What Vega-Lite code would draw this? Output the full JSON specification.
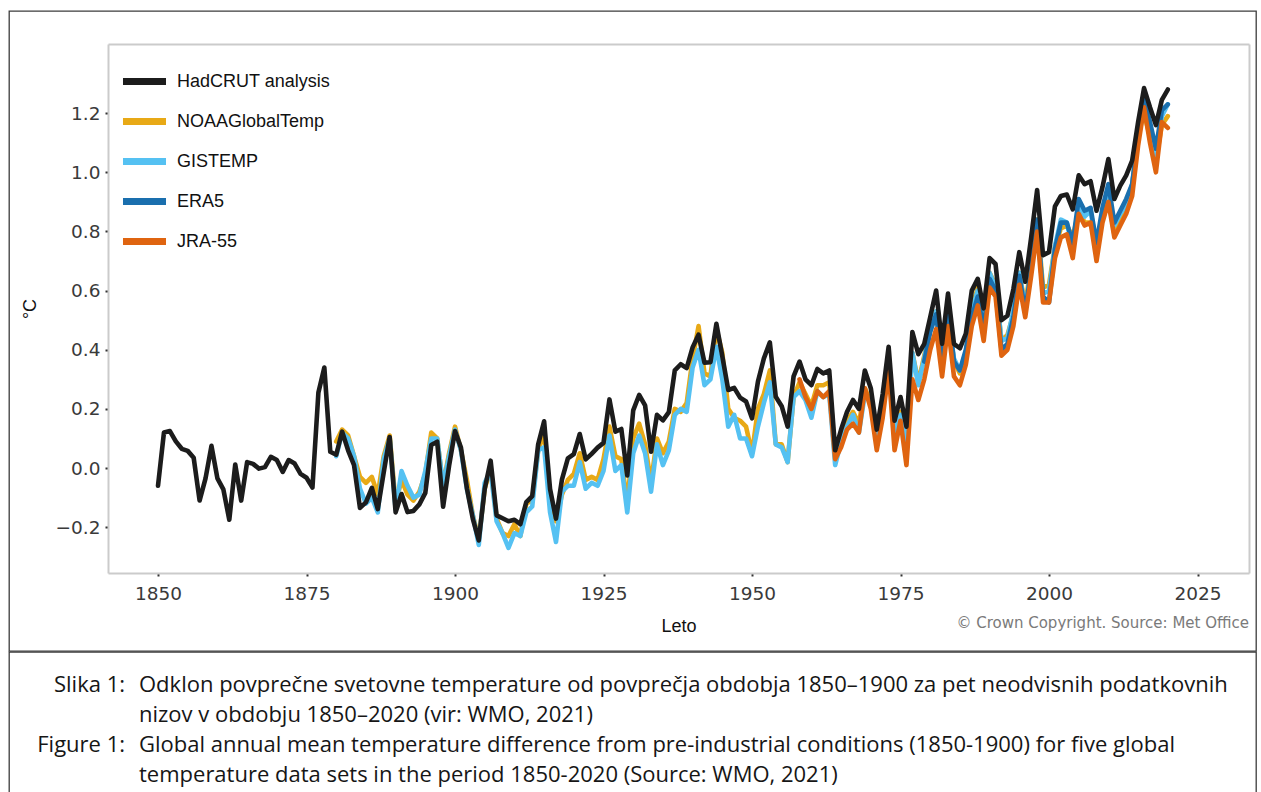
{
  "$schema": "https://vega.github.io/schema/vega-lite/v6.json",
  "padding": {"left": 8, "top": 10, "right": 6, "bottom": 0},
  "background": "#ffffff",
  "spacing": -2,
  "config": {
    "view": {"stroke": "#3c3c3c", "strokeWidth": 1.3},
    "axis": {"grid": false}
  },
  "vconcat": [
    {
      "width": 1247,
      "height": 640,
      "title": {
        "text": "© Crown Copyright. Source: Met Office",
        "orient": "bottom",
        "anchor": "end",
        "offset": -35,
        "dx": -7,
        "font": "DejaVu Sans",
        "fontSize": 15,
        "fontWeight": "normal",
        "color": "#7a7a7a"
      },
      "data": {
        "values": [
          {"year":1880,"dataset":"NOAAGlobalTemp","anomaly":0.09},{"year":1881,"dataset":"NOAAGlobalTemp","anomaly":0.13},{"year":1882,"dataset":"NOAAGlobalTemp","anomaly":0.11},{"year":1883,"dataset":"NOAAGlobalTemp","anomaly":0.04},{"year":1884,"dataset":"NOAAGlobalTemp","anomaly":-0.03},{"year":1885,"dataset":"NOAAGlobalTemp","anomaly":-0.05},{"year":1886,"dataset":"NOAAGlobalTemp","anomaly":-0.03},{"year":1887,"dataset":"NOAAGlobalTemp","anomaly":-0.09},{"year":1888,"dataset":"NOAAGlobalTemp","anomaly":0.04},{"year":1889,"dataset":"NOAAGlobalTemp","anomaly":0.11},
          {"year":1890,"dataset":"NOAAGlobalTemp","anomaly":-0.12},{"year":1891,"dataset":"NOAAGlobalTemp","anomaly":-0.04},{"year":1892,"dataset":"NOAAGlobalTemp","anomaly":-0.09},{"year":1893,"dataset":"NOAAGlobalTemp","anomaly":-0.11},{"year":1894,"dataset":"NOAAGlobalTemp","anomaly":-0.08},{"year":1895,"dataset":"NOAAGlobalTemp","anomaly":-0.02},{"year":1896,"dataset":"NOAAGlobalTemp","anomaly":0.12},{"year":1897,"dataset":"NOAAGlobalTemp","anomaly":0.10},{"year":1898,"dataset":"NOAAGlobalTemp","anomaly":-0.06},{"year":1899,"dataset":"NOAAGlobalTemp","anomaly":0.05},
          {"year":1900,"dataset":"NOAAGlobalTemp","anomaly":0.14},{"year":1901,"dataset":"NOAAGlobalTemp","anomaly":0.06},{"year":1902,"dataset":"NOAAGlobalTemp","anomaly":-0.04},{"year":1903,"dataset":"NOAAGlobalTemp","anomaly":-0.16},{"year":1904,"dataset":"NOAAGlobalTemp","anomaly":-0.24},{"year":1905,"dataset":"NOAAGlobalTemp","anomaly":-0.07},{"year":1906,"dataset":"NOAAGlobalTemp","anomaly":0.0},{"year":1907,"dataset":"NOAAGlobalTemp","anomaly":-0.17},{"year":1908,"dataset":"NOAAGlobalTemp","anomaly":-0.22},{"year":1909,"dataset":"NOAAGlobalTemp","anomaly":-0.23},
          {"year":1910,"dataset":"NOAAGlobalTemp","anomaly":-0.19},{"year":1911,"dataset":"NOAAGlobalTemp","anomaly":-0.23},{"year":1912,"dataset":"NOAAGlobalTemp","anomaly":-0.12},{"year":1913,"dataset":"NOAAGlobalTemp","anomaly":-0.11},{"year":1914,"dataset":"NOAAGlobalTemp","anomaly":0.06},{"year":1915,"dataset":"NOAAGlobalTemp","anomaly":0.12},{"year":1916,"dataset":"NOAAGlobalTemp","anomaly":-0.11},{"year":1917,"dataset":"NOAAGlobalTemp","anomaly":-0.18},{"year":1918,"dataset":"NOAAGlobalTemp","anomaly":-0.09},{"year":1919,"dataset":"NOAAGlobalTemp","anomaly":-0.04},
          {"year":1920,"dataset":"NOAAGlobalTemp","anomaly":-0.02},{"year":1921,"dataset":"NOAAGlobalTemp","anomaly":0.05},{"year":1922,"dataset":"NOAAGlobalTemp","anomaly":-0.04},{"year":1923,"dataset":"NOAAGlobalTemp","anomaly":-0.03},{"year":1924,"dataset":"NOAAGlobalTemp","anomaly":-0.04},{"year":1925,"dataset":"NOAAGlobalTemp","anomaly":0.03},{"year":1926,"dataset":"NOAAGlobalTemp","anomaly":0.14},{"year":1927,"dataset":"NOAAGlobalTemp","anomaly":0.04},{"year":1928,"dataset":"NOAAGlobalTemp","anomaly":0.03},{"year":1929,"dataset":"NOAAGlobalTemp","anomaly":-0.12},
          {"year":1930,"dataset":"NOAAGlobalTemp","anomaly":0.10},{"year":1931,"dataset":"NOAAGlobalTemp","anomaly":0.15},{"year":1932,"dataset":"NOAAGlobalTemp","anomaly":0.08},{"year":1933,"dataset":"NOAAGlobalTemp","anomaly":-0.05},{"year":1934,"dataset":"NOAAGlobalTemp","anomaly":0.10},{"year":1935,"dataset":"NOAAGlobalTemp","anomaly":0.05},{"year":1936,"dataset":"NOAAGlobalTemp","anomaly":0.09},{"year":1937,"dataset":"NOAAGlobalTemp","anomaly":0.20},{"year":1938,"dataset":"NOAAGlobalTemp","anomaly":0.19},{"year":1939,"dataset":"NOAAGlobalTemp","anomaly":0.22},
          {"year":1940,"dataset":"NOAAGlobalTemp","anomaly":0.37},{"year":1941,"dataset":"NOAAGlobalTemp","anomaly":0.48},{"year":1942,"dataset":"NOAAGlobalTemp","anomaly":0.32},{"year":1943,"dataset":"NOAAGlobalTemp","anomaly":0.31},{"year":1944,"dataset":"NOAAGlobalTemp","anomaly":0.47},{"year":1945,"dataset":"NOAAGlobalTemp","anomaly":0.39},{"year":1946,"dataset":"NOAAGlobalTemp","anomaly":0.20},{"year":1947,"dataset":"NOAAGlobalTemp","anomaly":0.17},{"year":1948,"dataset":"NOAAGlobalTemp","anomaly":0.16},{"year":1949,"dataset":"NOAAGlobalTemp","anomaly":0.14},
          {"year":1950,"dataset":"NOAAGlobalTemp","anomaly":0.05},{"year":1951,"dataset":"NOAAGlobalTemp","anomaly":0.20},{"year":1952,"dataset":"NOAAGlobalTemp","anomaly":0.25},{"year":1953,"dataset":"NOAAGlobalTemp","anomaly":0.33},{"year":1954,"dataset":"NOAAGlobalTemp","anomaly":0.08},{"year":1955,"dataset":"NOAAGlobalTemp","anomaly":0.08},{"year":1956,"dataset":"NOAAGlobalTemp","anomaly":0.02},{"year":1957,"dataset":"NOAAGlobalTemp","anomaly":0.24},{"year":1958,"dataset":"NOAAGlobalTemp","anomaly":0.29},{"year":1959,"dataset":"NOAAGlobalTemp","anomaly":0.25},
          {"year":1960,"dataset":"NOAAGlobalTemp","anomaly":0.21},{"year":1961,"dataset":"NOAAGlobalTemp","anomaly":0.28},{"year":1962,"dataset":"NOAAGlobalTemp","anomaly":0.28},{"year":1963,"dataset":"NOAAGlobalTemp","anomaly":0.29},{"year":1964,"dataset":"NOAAGlobalTemp","anomaly":0.04},{"year":1965,"dataset":"NOAAGlobalTemp","anomaly":0.11},{"year":1966,"dataset":"NOAAGlobalTemp","anomaly":0.16},{"year":1967,"dataset":"NOAAGlobalTemp","anomaly":0.19},{"year":1968,"dataset":"NOAAGlobalTemp","anomaly":0.15},{"year":1969,"dataset":"NOAAGlobalTemp","anomaly":0.27},
          {"year":1970,"dataset":"NOAAGlobalTemp","anomaly":0.22},{"year":1971,"dataset":"NOAAGlobalTemp","anomaly":0.10},{"year":1972,"dataset":"NOAAGlobalTemp","anomaly":0.21},{"year":1973,"dataset":"NOAAGlobalTemp","anomaly":0.36},{"year":1974,"dataset":"NOAAGlobalTemp","anomaly":0.12},{"year":1975,"dataset":"NOAAGlobalTemp","anomaly":0.19},{"year":1976,"dataset":"NOAAGlobalTemp","anomaly":0.09},{"year":1977,"dataset":"NOAAGlobalTemp","anomaly":0.39},{"year":1978,"dataset":"NOAAGlobalTemp","anomaly":0.29},{"year":1979,"dataset":"NOAAGlobalTemp","anomaly":0.38},
          {"year":1980,"dataset":"NOAAGlobalTemp","anomaly":0.47},{"year":1981,"dataset":"NOAAGlobalTemp","anomaly":0.53},{"year":1982,"dataset":"NOAAGlobalTemp","anomaly":0.35},{"year":1983,"dataset":"NOAAGlobalTemp","anomaly":0.52},{"year":1984,"dataset":"NOAAGlobalTemp","anomaly":0.36},{"year":1985,"dataset":"NOAAGlobalTemp","anomaly":0.32},{"year":1986,"dataset":"NOAAGlobalTemp","anomaly":0.39},{"year":1987,"dataset":"NOAAGlobalTemp","anomaly":0.54},{"year":1988,"dataset":"NOAAGlobalTemp","anomaly":0.61},{"year":1989,"dataset":"NOAAGlobalTemp","anomaly":0.48},
          {"year":1990,"dataset":"NOAAGlobalTemp","anomaly":0.66},{"year":1991,"dataset":"NOAAGlobalTemp","anomaly":0.62},{"year":1992,"dataset":"NOAAGlobalTemp","anomaly":0.43},{"year":1993,"dataset":"NOAAGlobalTemp","anomaly":0.45},{"year":1994,"dataset":"NOAAGlobalTemp","anomaly":0.52},{"year":1995,"dataset":"NOAAGlobalTemp","anomaly":0.66},{"year":1996,"dataset":"NOAAGlobalTemp","anomaly":0.55},{"year":1997,"dataset":"NOAAGlobalTemp","anomaly":0.69},{"year":1998,"dataset":"NOAAGlobalTemp","anomaly":0.84},{"year":1999,"dataset":"NOAAGlobalTemp","anomaly":0.61},
          {"year":2000,"dataset":"NOAAGlobalTemp","anomaly":0.62},{"year":2001,"dataset":"NOAAGlobalTemp","anomaly":0.75},{"year":2002,"dataset":"NOAAGlobalTemp","anomaly":0.81},{"year":2003,"dataset":"NOAAGlobalTemp","anomaly":0.82},{"year":2004,"dataset":"NOAAGlobalTemp","anomaly":0.78},{"year":2005,"dataset":"NOAAGlobalTemp","anomaly":0.87},{"year":2006,"dataset":"NOAAGlobalTemp","anomaly":0.83},{"year":2007,"dataset":"NOAAGlobalTemp","anomaly":0.83},{"year":2008,"dataset":"NOAAGlobalTemp","anomaly":0.75},{"year":2009,"dataset":"NOAAGlobalTemp","anomaly":0.85},
          {"year":2010,"dataset":"NOAAGlobalTemp","anomaly":0.91},{"year":2011,"dataset":"NOAAGlobalTemp","anomaly":0.79},{"year":2012,"dataset":"NOAAGlobalTemp","anomaly":0.83},{"year":2013,"dataset":"NOAAGlobalTemp","anomaly":0.88},{"year":2014,"dataset":"NOAAGlobalTemp","anomaly":0.95},{"year":2015,"dataset":"NOAAGlobalTemp","anomaly":1.14},{"year":2016,"dataset":"NOAAGlobalTemp","anomaly":1.20},{"year":2017,"dataset":"NOAAGlobalTemp","anomaly":1.12},{"year":2018,"dataset":"NOAAGlobalTemp","anomaly":1.04},{"year":2019,"dataset":"NOAAGlobalTemp","anomaly":1.16},
          {"year":2020,"dataset":"NOAAGlobalTemp","anomaly":1.19},

          {"year":1880,"dataset":"GISTEMP","anomaly":0.04},{"year":1881,"dataset":"GISTEMP","anomaly":0.12},{"year":1882,"dataset":"GISTEMP","anomaly":0.10},{"year":1883,"dataset":"GISTEMP","anomaly":0.04},{"year":1884,"dataset":"GISTEMP","anomaly":-0.07},{"year":1885,"dataset":"GISTEMP","anomaly":-0.12},{"year":1886,"dataset":"GISTEMP","anomaly":-0.10},{"year":1887,"dataset":"GISTEMP","anomaly":-0.15},{"year":1888,"dataset":"GISTEMP","anomaly":0.03},{"year":1889,"dataset":"GISTEMP","anomaly":0.10},
          {"year":1890,"dataset":"GISTEMP","anomaly":-0.14},{"year":1891,"dataset":"GISTEMP","anomaly":-0.01},{"year":1892,"dataset":"GISTEMP","anomaly":-0.06},{"year":1893,"dataset":"GISTEMP","anomaly":-0.10},{"year":1894,"dataset":"GISTEMP","anomaly":-0.09},{"year":1895,"dataset":"GISTEMP","anomaly":-0.01},{"year":1896,"dataset":"GISTEMP","anomaly":0.10},{"year":1897,"dataset":"GISTEMP","anomaly":0.10},{"year":1898,"dataset":"GISTEMP","anomaly":-0.06},{"year":1899,"dataset":"GISTEMP","anomaly":0.04},
          {"year":1900,"dataset":"GISTEMP","anomaly":0.13},{"year":1901,"dataset":"GISTEMP","anomaly":0.06},{"year":1902,"dataset":"GISTEMP","anomaly":-0.07},{"year":1903,"dataset":"GISTEMP","anomaly":-0.16},{"year":1904,"dataset":"GISTEMP","anomaly":-0.26},{"year":1905,"dataset":"GISTEMP","anomaly":-0.05},{"year":1906,"dataset":"GISTEMP","anomaly":-0.01},{"year":1907,"dataset":"GISTEMP","anomaly":-0.18},{"year":1908,"dataset":"GISTEMP","anomaly":-0.22},{"year":1909,"dataset":"GISTEMP","anomaly":-0.27},
          {"year":1910,"dataset":"GISTEMP","anomaly":-0.22},{"year":1911,"dataset":"GISTEMP","anomaly":-0.23},{"year":1912,"dataset":"GISTEMP","anomaly":-0.15},{"year":1913,"dataset":"GISTEMP","anomaly":-0.13},{"year":1914,"dataset":"GISTEMP","anomaly":0.06},{"year":1915,"dataset":"GISTEMP","anomaly":0.07},{"year":1916,"dataset":"GISTEMP","anomaly":-0.15},{"year":1917,"dataset":"GISTEMP","anomaly":-0.25},{"year":1918,"dataset":"GISTEMP","anomaly":-0.08},{"year":1919,"dataset":"GISTEMP","anomaly":-0.06},
          {"year":1920,"dataset":"GISTEMP","anomaly":-0.06},{"year":1921,"dataset":"GISTEMP","anomaly":0.02},{"year":1922,"dataset":"GISTEMP","anomaly":-0.07},{"year":1923,"dataset":"GISTEMP","anomaly":-0.05},{"year":1924,"dataset":"GISTEMP","anomaly":-0.06},{"year":1925,"dataset":"GISTEMP","anomaly":-0.01},{"year":1926,"dataset":"GISTEMP","anomaly":0.11},{"year":1927,"dataset":"GISTEMP","anomaly":-0.01},{"year":1928,"dataset":"GISTEMP","anomaly":0.01},{"year":1929,"dataset":"GISTEMP","anomaly":-0.15},
          {"year":1930,"dataset":"GISTEMP","anomaly":0.05},{"year":1931,"dataset":"GISTEMP","anomaly":0.11},{"year":1932,"dataset":"GISTEMP","anomaly":0.05},{"year":1933,"dataset":"GISTEMP","anomaly":-0.08},{"year":1934,"dataset":"GISTEMP","anomaly":0.08},{"year":1935,"dataset":"GISTEMP","anomaly":0.01},{"year":1936,"dataset":"GISTEMP","anomaly":0.06},{"year":1937,"dataset":"GISTEMP","anomaly":0.18},{"year":1938,"dataset":"GISTEMP","anomaly":0.20},{"year":1939,"dataset":"GISTEMP","anomaly":0.19},
          {"year":1940,"dataset":"GISTEMP","anomaly":0.34},{"year":1941,"dataset":"GISTEMP","anomaly":0.40},{"year":1942,"dataset":"GISTEMP","anomaly":0.28},{"year":1943,"dataset":"GISTEMP","anomaly":0.30},{"year":1944,"dataset":"GISTEMP","anomaly":0.41},{"year":1945,"dataset":"GISTEMP","anomaly":0.30},{"year":1946,"dataset":"GISTEMP","anomaly":0.14},{"year":1947,"dataset":"GISTEMP","anomaly":0.18},{"year":1948,"dataset":"GISTEMP","anomaly":0.10},{"year":1949,"dataset":"GISTEMP","anomaly":0.10},
          {"year":1950,"dataset":"GISTEMP","anomaly":0.04},{"year":1951,"dataset":"GISTEMP","anomaly":0.14},{"year":1952,"dataset":"GISTEMP","anomaly":0.22},{"year":1953,"dataset":"GISTEMP","anomaly":0.29},{"year":1954,"dataset":"GISTEMP","anomaly":0.08},{"year":1955,"dataset":"GISTEMP","anomaly":0.07},{"year":1956,"dataset":"GISTEMP","anomaly":0.02},{"year":1957,"dataset":"GISTEMP","anomaly":0.24},{"year":1958,"dataset":"GISTEMP","anomaly":0.26},{"year":1959,"dataset":"GISTEMP","anomaly":0.23},
          {"year":1960,"dataset":"GISTEMP","anomaly":0.17},{"year":1961,"dataset":"GISTEMP","anomaly":0.26},{"year":1962,"dataset":"GISTEMP","anomaly":0.24},{"year":1963,"dataset":"GISTEMP","anomaly":0.25},{"year":1964,"dataset":"GISTEMP","anomaly":0.01},{"year":1965,"dataset":"GISTEMP","anomaly":0.09},{"year":1966,"dataset":"GISTEMP","anomaly":0.14},{"year":1967,"dataset":"GISTEMP","anomaly":0.18},{"year":1968,"dataset":"GISTEMP","anomaly":0.12},{"year":1969,"dataset":"GISTEMP","anomaly":0.25},
          {"year":1970,"dataset":"GISTEMP","anomaly":0.22},{"year":1971,"dataset":"GISTEMP","anomaly":0.10},{"year":1972,"dataset":"GISTEMP","anomaly":0.20},{"year":1973,"dataset":"GISTEMP","anomaly":0.35},{"year":1974,"dataset":"GISTEMP","anomaly":0.12},{"year":1975,"dataset":"GISTEMP","anomaly":0.18},{"year":1976,"dataset":"GISTEMP","anomaly":0.08},{"year":1977,"dataset":"GISTEMP","anomaly":0.39},{"year":1978,"dataset":"GISTEMP","anomaly":0.28},{"year":1979,"dataset":"GISTEMP","anomaly":0.37},
          {"year":1980,"dataset":"GISTEMP","anomaly":0.47},{"year":1981,"dataset":"GISTEMP","anomaly":0.53},{"year":1982,"dataset":"GISTEMP","anomaly":0.35},{"year":1983,"dataset":"GISTEMP","anomaly":0.52},{"year":1984,"dataset":"GISTEMP","anomaly":0.37},{"year":1985,"dataset":"GISTEMP","anomaly":0.33},{"year":1986,"dataset":"GISTEMP","anomaly":0.39},{"year":1987,"dataset":"GISTEMP","anomaly":0.53},{"year":1988,"dataset":"GISTEMP","anomaly":0.60},{"year":1989,"dataset":"GISTEMP","anomaly":0.48},
          {"year":1990,"dataset":"GISTEMP","anomaly":0.66},{"year":1991,"dataset":"GISTEMP","anomaly":0.61},{"year":1992,"dataset":"GISTEMP","anomaly":0.43},{"year":1993,"dataset":"GISTEMP","anomaly":0.44},{"year":1994,"dataset":"GISTEMP","anomaly":0.53},{"year":1995,"dataset":"GISTEMP","anomaly":0.66},{"year":1996,"dataset":"GISTEMP","anomaly":0.54},{"year":1997,"dataset":"GISTEMP","anomaly":0.67},{"year":1998,"dataset":"GISTEMP","anomaly":0.82},{"year":1999,"dataset":"GISTEMP","anomaly":0.59},
          {"year":2000,"dataset":"GISTEMP","anomaly":0.60},{"year":2001,"dataset":"GISTEMP","anomaly":0.75},{"year":2002,"dataset":"GISTEMP","anomaly":0.84},{"year":2003,"dataset":"GISTEMP","anomaly":0.83},{"year":2004,"dataset":"GISTEMP","anomaly":0.74},{"year":2005,"dataset":"GISTEMP","anomaly":0.89},{"year":2006,"dataset":"GISTEMP","anomaly":0.85},{"year":2007,"dataset":"GISTEMP","anomaly":0.87},{"year":2008,"dataset":"GISTEMP","anomaly":0.75},{"year":2009,"dataset":"GISTEMP","anomaly":0.86},
          {"year":2010,"dataset":"GISTEMP","anomaly":0.93},{"year":2011,"dataset":"GISTEMP","anomaly":0.82},{"year":2012,"dataset":"GISTEMP","anomaly":0.86},{"year":2013,"dataset":"GISTEMP","anomaly":0.89},{"year":2014,"dataset":"GISTEMP","anomaly":0.96},{"year":2015,"dataset":"GISTEMP","anomaly":1.11},{"year":2016,"dataset":"GISTEMP","anomaly":1.22},{"year":2017,"dataset":"GISTEMP","anomaly":1.13},{"year":2018,"dataset":"GISTEMP","anomaly":1.06},{"year":2019,"dataset":"GISTEMP","anomaly":1.19},
          {"year":2020,"dataset":"GISTEMP","anomaly":1.23},

          {"year":1979,"dataset":"ERA5","anomaly":0.36},{"year":1980,"dataset":"ERA5","anomaly":0.46},{"year":1981,"dataset":"ERA5","anomaly":0.52},{"year":1982,"dataset":"ERA5","anomaly":0.36},{"year":1983,"dataset":"ERA5","anomaly":0.53},{"year":1984,"dataset":"ERA5","anomaly":0.36},{"year":1985,"dataset":"ERA5","anomaly":0.33},{"year":1986,"dataset":"ERA5","anomaly":0.40},{"year":1987,"dataset":"ERA5","anomaly":0.51},{"year":1988,"dataset":"ERA5","anomaly":0.58},{"year":1989,"dataset":"ERA5","anomaly":0.47},
          {"year":1990,"dataset":"ERA5","anomaly":0.64},{"year":1991,"dataset":"ERA5","anomaly":0.60},{"year":1992,"dataset":"ERA5","anomaly":0.40},{"year":1993,"dataset":"ERA5","anomaly":0.42},{"year":1994,"dataset":"ERA5","anomaly":0.51},{"year":1995,"dataset":"ERA5","anomaly":0.65},{"year":1996,"dataset":"ERA5","anomaly":0.53},{"year":1997,"dataset":"ERA5","anomaly":0.67},{"year":1998,"dataset":"ERA5","anomaly":0.84},{"year":1999,"dataset":"ERA5","anomaly":0.58},
          {"year":2000,"dataset":"ERA5","anomaly":0.56},{"year":2001,"dataset":"ERA5","anomaly":0.74},{"year":2002,"dataset":"ERA5","anomaly":0.83},{"year":2003,"dataset":"ERA5","anomaly":0.83},{"year":2004,"dataset":"ERA5","anomaly":0.76},{"year":2005,"dataset":"ERA5","anomaly":0.91},{"year":2006,"dataset":"ERA5","anomaly":0.87},{"year":2007,"dataset":"ERA5","anomaly":0.88},{"year":2008,"dataset":"ERA5","anomaly":0.76},{"year":2009,"dataset":"ERA5","anomaly":0.88},
          {"year":2010,"dataset":"ERA5","anomaly":0.96},{"year":2011,"dataset":"ERA5","anomaly":0.83},{"year":2012,"dataset":"ERA5","anomaly":0.87},{"year":2013,"dataset":"ERA5","anomaly":0.91},{"year":2014,"dataset":"ERA5","anomaly":0.96},{"year":2015,"dataset":"ERA5","anomaly":1.12},{"year":2016,"dataset":"ERA5","anomaly":1.25},{"year":2017,"dataset":"ERA5","anomaly":1.17},{"year":2018,"dataset":"ERA5","anomaly":1.08},{"year":2019,"dataset":"ERA5","anomaly":1.21},
          {"year":2020,"dataset":"ERA5","anomaly":1.23},

          {"year":1958,"dataset":"JRA-55","anomaly":0.30},{"year":1959,"dataset":"JRA-55","anomaly":0.24},
          {"year":1960,"dataset":"JRA-55","anomaly":0.20},{"year":1961,"dataset":"JRA-55","anomaly":0.26},{"year":1962,"dataset":"JRA-55","anomaly":0.24},{"year":1963,"dataset":"JRA-55","anomaly":0.26},{"year":1964,"dataset":"JRA-55","anomaly":0.03},{"year":1965,"dataset":"JRA-55","anomaly":0.07},{"year":1966,"dataset":"JRA-55","anomaly":0.13},{"year":1967,"dataset":"JRA-55","anomaly":0.15},{"year":1968,"dataset":"JRA-55","anomaly":0.12},{"year":1969,"dataset":"JRA-55","anomaly":0.27},
          {"year":1970,"dataset":"JRA-55","anomaly":0.20},{"year":1971,"dataset":"JRA-55","anomaly":0.06},{"year":1972,"dataset":"JRA-55","anomaly":0.17},{"year":1973,"dataset":"JRA-55","anomaly":0.33},{"year":1974,"dataset":"JRA-55","anomaly":0.06},{"year":1975,"dataset":"JRA-55","anomaly":0.16},{"year":1976,"dataset":"JRA-55","anomaly":0.01},{"year":1977,"dataset":"JRA-55","anomaly":0.30},{"year":1978,"dataset":"JRA-55","anomaly":0.23},{"year":1979,"dataset":"JRA-55","anomaly":0.30},
          {"year":1980,"dataset":"JRA-55","anomaly":0.40},{"year":1981,"dataset":"JRA-55","anomaly":0.47},{"year":1982,"dataset":"JRA-55","anomaly":0.31},{"year":1983,"dataset":"JRA-55","anomaly":0.48},{"year":1984,"dataset":"JRA-55","anomaly":0.31},{"year":1985,"dataset":"JRA-55","anomaly":0.28},{"year":1986,"dataset":"JRA-55","anomaly":0.35},{"year":1987,"dataset":"JRA-55","anomaly":0.48},{"year":1988,"dataset":"JRA-55","anomaly":0.55},{"year":1989,"dataset":"JRA-55","anomaly":0.43},
          {"year":1990,"dataset":"JRA-55","anomaly":0.61},{"year":1991,"dataset":"JRA-55","anomaly":0.58},{"year":1992,"dataset":"JRA-55","anomaly":0.38},{"year":1993,"dataset":"JRA-55","anomaly":0.40},{"year":1994,"dataset":"JRA-55","anomaly":0.48},{"year":1995,"dataset":"JRA-55","anomaly":0.62},{"year":1996,"dataset":"JRA-55","anomaly":0.51},{"year":1997,"dataset":"JRA-55","anomaly":0.65},{"year":1998,"dataset":"JRA-55","anomaly":0.80},{"year":1999,"dataset":"JRA-55","anomaly":0.56},
          {"year":2000,"dataset":"JRA-55","anomaly":0.56},{"year":2001,"dataset":"JRA-55","anomaly":0.71},{"year":2002,"dataset":"JRA-55","anomaly":0.78},{"year":2003,"dataset":"JRA-55","anomaly":0.79},{"year":2004,"dataset":"JRA-55","anomaly":0.71},{"year":2005,"dataset":"JRA-55","anomaly":0.86},{"year":2006,"dataset":"JRA-55","anomaly":0.82},{"year":2007,"dataset":"JRA-55","anomaly":0.83},{"year":2008,"dataset":"JRA-55","anomaly":0.70},{"year":2009,"dataset":"JRA-55","anomaly":0.83},
          {"year":2010,"dataset":"JRA-55","anomaly":0.90},{"year":2011,"dataset":"JRA-55","anomaly":0.78},{"year":2012,"dataset":"JRA-55","anomaly":0.82},{"year":2013,"dataset":"JRA-55","anomaly":0.86},{"year":2014,"dataset":"JRA-55","anomaly":0.92},{"year":2015,"dataset":"JRA-55","anomaly":1.09},{"year":2016,"dataset":"JRA-55","anomaly":1.22},{"year":2017,"dataset":"JRA-55","anomaly":1.10},{"year":2018,"dataset":"JRA-55","anomaly":1.00},{"year":2019,"dataset":"JRA-55","anomaly":1.17},
          {"year":2020,"dataset":"JRA-55","anomaly":1.15},

          {"year":1850,"dataset":"HadCRUT analysis","anomaly":-0.06},{"year":1851,"dataset":"HadCRUT analysis","anomaly":0.12},{"year":1852,"dataset":"HadCRUT analysis","anomaly":0.125},{"year":1853,"dataset":"HadCRUT analysis","anomaly":0.09},{"year":1854,"dataset":"HadCRUT analysis","anomaly":0.065},{"year":1855,"dataset":"HadCRUT analysis","anomaly":0.058},{"year":1856,"dataset":"HadCRUT analysis","anomaly":0.035},{"year":1857,"dataset":"HadCRUT analysis","anomaly":-0.11},{"year":1858,"dataset":"HadCRUT analysis","anomaly":-0.035},{"year":1859,"dataset":"HadCRUT analysis","anomaly":0.075},
          {"year":1860,"dataset":"HadCRUT analysis","anomaly":-0.035},{"year":1861,"dataset":"HadCRUT analysis","anomaly":-0.072},{"year":1862,"dataset":"HadCRUT analysis","anomaly":-0.175},{"year":1863,"dataset":"HadCRUT analysis","anomaly":0.012},{"year":1864,"dataset":"HadCRUT analysis","anomaly":-0.11},{"year":1865,"dataset":"HadCRUT analysis","anomaly":0.02},{"year":1866,"dataset":"HadCRUT analysis","anomaly":0.014},{"year":1867,"dataset":"HadCRUT analysis","anomaly":-0.002},{"year":1868,"dataset":"HadCRUT analysis","anomaly":0.003},{"year":1869,"dataset":"HadCRUT analysis","anomaly":0.038},
          {"year":1870,"dataset":"HadCRUT analysis","anomaly":0.027},{"year":1871,"dataset":"HadCRUT analysis","anomaly":-0.013},{"year":1872,"dataset":"HadCRUT analysis","anomaly":0.027},{"year":1873,"dataset":"HadCRUT analysis","anomaly":0.015},{"year":1874,"dataset":"HadCRUT analysis","anomaly":-0.02},{"year":1875,"dataset":"HadCRUT analysis","anomaly":-0.033},{"year":1876,"dataset":"HadCRUT analysis","anomaly":-0.066},{"year":1877,"dataset":"HadCRUT analysis","anomaly":0.255},{"year":1878,"dataset":"HadCRUT analysis","anomaly":0.34},{"year":1879,"dataset":"HadCRUT analysis","anomaly":0.055},
          {"year":1880,"dataset":"HadCRUT analysis","anomaly":0.045},{"year":1881,"dataset":"HadCRUT analysis","anomaly":0.123},{"year":1882,"dataset":"HadCRUT analysis","anomaly":0.06},{"year":1883,"dataset":"HadCRUT analysis","anomaly":0.01},{"year":1884,"dataset":"HadCRUT analysis","anomaly":-0.135},{"year":1885,"dataset":"HadCRUT analysis","anomaly":-0.116},{"year":1886,"dataset":"HadCRUT analysis","anomaly":-0.067},{"year":1887,"dataset":"HadCRUT analysis","anomaly":-0.139},{"year":1888,"dataset":"HadCRUT analysis","anomaly":-0.015},{"year":1889,"dataset":"HadCRUT analysis","anomaly":0.105},
          {"year":1890,"dataset":"HadCRUT analysis","anomaly":-0.15},{"year":1891,"dataset":"HadCRUT analysis","anomaly":-0.088},{"year":1892,"dataset":"HadCRUT analysis","anomaly":-0.149},{"year":1893,"dataset":"HadCRUT analysis","anomaly":-0.145},{"year":1894,"dataset":"HadCRUT analysis","anomaly":-0.123},{"year":1895,"dataset":"HadCRUT analysis","anomaly":-0.084},{"year":1896,"dataset":"HadCRUT analysis","anomaly":0.078},{"year":1897,"dataset":"HadCRUT analysis","anomaly":0.089},{"year":1898,"dataset":"HadCRUT analysis","anomaly":-0.131},{"year":1899,"dataset":"HadCRUT analysis","anomaly":0.007},
          {"year":1900,"dataset":"HadCRUT analysis","anomaly":0.125},{"year":1901,"dataset":"HadCRUT analysis","anomaly":0.069},{"year":1902,"dataset":"HadCRUT analysis","anomaly":-0.069},{"year":1903,"dataset":"HadCRUT analysis","anomaly":-0.172},{"year":1904,"dataset":"HadCRUT analysis","anomaly":-0.245},{"year":1905,"dataset":"HadCRUT analysis","anomaly":-0.071},{"year":1906,"dataset":"HadCRUT analysis","anomaly":0.025},{"year":1907,"dataset":"HadCRUT analysis","anomaly":-0.16},{"year":1908,"dataset":"HadCRUT analysis","anomaly":-0.17},{"year":1909,"dataset":"HadCRUT analysis","anomaly":-0.18},
          {"year":1910,"dataset":"HadCRUT analysis","anomaly":-0.175},{"year":1911,"dataset":"HadCRUT analysis","anomaly":-0.19},{"year":1912,"dataset":"HadCRUT analysis","anomaly":-0.115},{"year":1913,"dataset":"HadCRUT analysis","anomaly":-0.095},{"year":1914,"dataset":"HadCRUT analysis","anomaly":0.08},{"year":1915,"dataset":"HadCRUT analysis","anomaly":0.158},{"year":1916,"dataset":"HadCRUT analysis","anomaly":-0.071},{"year":1917,"dataset":"HadCRUT analysis","anomaly":-0.171},{"year":1918,"dataset":"HadCRUT analysis","anomaly":-0.039},{"year":1919,"dataset":"HadCRUT analysis","anomaly":0.033},
          {"year":1920,"dataset":"HadCRUT analysis","anomaly":0.047},{"year":1921,"dataset":"HadCRUT analysis","anomaly":0.115},{"year":1922,"dataset":"HadCRUT analysis","anomaly":0.029},{"year":1923,"dataset":"HadCRUT analysis","anomaly":0.048},{"year":1924,"dataset":"HadCRUT analysis","anomaly":0.069},{"year":1925,"dataset":"HadCRUT analysis","anomaly":0.085},{"year":1926,"dataset":"HadCRUT analysis","anomaly":0.232},{"year":1927,"dataset":"HadCRUT analysis","anomaly":0.123},{"year":1928,"dataset":"HadCRUT analysis","anomaly":0.132},{"year":1929,"dataset":"HadCRUT analysis","anomaly":-0.025},
          {"year":1930,"dataset":"HadCRUT analysis","anomaly":0.195},{"year":1931,"dataset":"HadCRUT analysis","anomaly":0.247},{"year":1932,"dataset":"HadCRUT analysis","anomaly":0.212},{"year":1933,"dataset":"HadCRUT analysis","anomaly":0.055},{"year":1934,"dataset":"HadCRUT analysis","anomaly":0.18},{"year":1935,"dataset":"HadCRUT analysis","anomaly":0.161},{"year":1936,"dataset":"HadCRUT analysis","anomaly":0.189},{"year":1937,"dataset":"HadCRUT analysis","anomaly":0.33},{"year":1938,"dataset":"HadCRUT analysis","anomaly":0.351},{"year":1939,"dataset":"HadCRUT analysis","anomaly":0.338},
          {"year":1940,"dataset":"HadCRUT analysis","anomaly":0.408},{"year":1941,"dataset":"HadCRUT analysis","anomaly":0.451},{"year":1942,"dataset":"HadCRUT analysis","anomaly":0.356},{"year":1943,"dataset":"HadCRUT analysis","anomaly":0.358},{"year":1944,"dataset":"HadCRUT analysis","anomaly":0.488},{"year":1945,"dataset":"HadCRUT analysis","anomaly":0.378},{"year":1946,"dataset":"HadCRUT analysis","anomaly":0.264},{"year":1947,"dataset":"HadCRUT analysis","anomaly":0.271},{"year":1948,"dataset":"HadCRUT analysis","anomaly":0.238},{"year":1949,"dataset":"HadCRUT analysis","anomaly":0.225},
          {"year":1950,"dataset":"HadCRUT analysis","anomaly":0.168},{"year":1951,"dataset":"HadCRUT analysis","anomaly":0.292},{"year":1952,"dataset":"HadCRUT analysis","anomaly":0.371},{"year":1953,"dataset":"HadCRUT analysis","anomaly":0.425},{"year":1954,"dataset":"HadCRUT analysis","anomaly":0.241},{"year":1955,"dataset":"HadCRUT analysis","anomaly":0.209},{"year":1956,"dataset":"HadCRUT analysis","anomaly":0.14},{"year":1957,"dataset":"HadCRUT analysis","anomaly":0.31},{"year":1958,"dataset":"HadCRUT analysis","anomaly":0.36},{"year":1959,"dataset":"HadCRUT analysis","anomaly":0.30},
          {"year":1960,"dataset":"HadCRUT analysis","anomaly":0.28},{"year":1961,"dataset":"HadCRUT analysis","anomaly":0.335},{"year":1962,"dataset":"HadCRUT analysis","anomaly":0.32},{"year":1963,"dataset":"HadCRUT analysis","anomaly":0.33},{"year":1964,"dataset":"HadCRUT analysis","anomaly":0.06},{"year":1965,"dataset":"HadCRUT analysis","anomaly":0.13},{"year":1966,"dataset":"HadCRUT analysis","anomaly":0.19},{"year":1967,"dataset":"HadCRUT analysis","anomaly":0.23},{"year":1968,"dataset":"HadCRUT analysis","anomaly":0.20},{"year":1969,"dataset":"HadCRUT analysis","anomaly":0.33},
          {"year":1970,"dataset":"HadCRUT analysis","anomaly":0.27},{"year":1971,"dataset":"HadCRUT analysis","anomaly":0.13},{"year":1972,"dataset":"HadCRUT analysis","anomaly":0.25},{"year":1973,"dataset":"HadCRUT analysis","anomaly":0.41},{"year":1974,"dataset":"HadCRUT analysis","anomaly":0.16},{"year":1975,"dataset":"HadCRUT analysis","anomaly":0.24},{"year":1976,"dataset":"HadCRUT analysis","anomaly":0.14},{"year":1977,"dataset":"HadCRUT analysis","anomaly":0.46},{"year":1978,"dataset":"HadCRUT analysis","anomaly":0.385},{"year":1979,"dataset":"HadCRUT analysis","anomaly":0.42},
          {"year":1980,"dataset":"HadCRUT analysis","anomaly":0.51},{"year":1981,"dataset":"HadCRUT analysis","anomaly":0.60},{"year":1982,"dataset":"HadCRUT analysis","anomaly":0.42},{"year":1983,"dataset":"HadCRUT analysis","anomaly":0.59},{"year":1984,"dataset":"HadCRUT analysis","anomaly":0.42},{"year":1985,"dataset":"HadCRUT analysis","anomaly":0.405},{"year":1986,"dataset":"HadCRUT analysis","anomaly":0.455},{"year":1987,"dataset":"HadCRUT analysis","anomaly":0.60},{"year":1988,"dataset":"HadCRUT analysis","anomaly":0.64},{"year":1989,"dataset":"HadCRUT analysis","anomaly":0.54},
          {"year":1990,"dataset":"HadCRUT analysis","anomaly":0.71},{"year":1991,"dataset":"HadCRUT analysis","anomaly":0.69},{"year":1992,"dataset":"HadCRUT analysis","anomaly":0.50},{"year":1993,"dataset":"HadCRUT analysis","anomaly":0.515},{"year":1994,"dataset":"HadCRUT analysis","anomaly":0.605},{"year":1995,"dataset":"HadCRUT analysis","anomaly":0.73},{"year":1996,"dataset":"HadCRUT analysis","anomaly":0.63},{"year":1997,"dataset":"HadCRUT analysis","anomaly":0.78},{"year":1998,"dataset":"HadCRUT analysis","anomaly":0.94},{"year":1999,"dataset":"HadCRUT analysis","anomaly":0.72},
          {"year":2000,"dataset":"HadCRUT analysis","anomaly":0.73},{"year":2001,"dataset":"HadCRUT analysis","anomaly":0.885},{"year":2002,"dataset":"HadCRUT analysis","anomaly":0.92},{"year":2003,"dataset":"HadCRUT analysis","anomaly":0.925},{"year":2004,"dataset":"HadCRUT analysis","anomaly":0.875},{"year":2005,"dataset":"HadCRUT analysis","anomaly":0.99},{"year":2006,"dataset":"HadCRUT analysis","anomaly":0.96},{"year":2007,"dataset":"HadCRUT analysis","anomaly":0.97},{"year":2008,"dataset":"HadCRUT analysis","anomaly":0.87},{"year":2009,"dataset":"HadCRUT analysis","anomaly":0.95},
          {"year":2010,"dataset":"HadCRUT analysis","anomaly":1.045},{"year":2011,"dataset":"HadCRUT analysis","anomaly":0.91},{"year":2012,"dataset":"HadCRUT analysis","anomaly":0.955},{"year":2013,"dataset":"HadCRUT analysis","anomaly":0.99},{"year":2014,"dataset":"HadCRUT analysis","anomaly":1.04},{"year":2015,"dataset":"HadCRUT analysis","anomaly":1.17},{"year":2016,"dataset":"HadCRUT analysis","anomaly":1.285},{"year":2017,"dataset":"HadCRUT analysis","anomaly":1.22},{"year":2018,"dataset":"HadCRUT analysis","anomaly":1.16},{"year":2019,"dataset":"HadCRUT analysis","anomaly":1.245},
          {"year":2020,"dataset":"HadCRUT analysis","anomaly":1.28}
        ]
      },
      "layer": [
        {
          "mark": {"type": "line", "strokeWidth": 4.6, "strokeJoin": "round", "strokeCap": "round"},
          "encoding": {
            "x": {
              "field": "year",
              "type": "quantitative",
              "scale": {"domain": [1841.58, 2033.67], "range": [99, 1240], "nice": false, "zero": false},
              "axis": {
                "orient": "bottom",
                "offset": -78,
                "values": [1850, 1875, 1900, 1925, 1950, 1975, 2000, 2025],
                "format": "d",
                "title": "Leto",
                "domainColor": "#cbcbcb",
                "domainWidth": 2,
                "tickColor": "#333333",
                "tickSize": 3,
                "tickWidth": 2,
                "labelFont": "DejaVu Sans",
                "labelFontSize": 18.5,
                "labelColor": "#3a3a3a",
                "labelPadding": 8,
                "labelFlush": false,
                "titleFont": "Liberation Sans",
                "titleFontSize": 18,
                "titleFontWeight": "normal",
                "titleColor": "#111111",
                "titlePadding": 15
              }
            },
            "y": {
              "field": "anomaly",
              "type": "quantitative",
              "scale": {"domain": [-0.355, 1.434], "range": [562, 33], "nice": false, "zero": false},
              "axis": {
                "orient": "left",
                "offset": -99,
                "values": [-0.2, 0, 0.2, 0.4, 0.6, 0.8, 1.0, 1.2],
                "format": ".1f",
                "title": "°C",
                "domainColor": "#cbcbcb",
                "domainWidth": 2,
                "tickColor": "#333333",
                "tickSize": 3,
                "tickWidth": 2,
                "labelFont": "DejaVu Sans",
                "labelFontSize": 18.5,
                "labelColor": "#3a3a3a",
                "labelPadding": 5,
                "labelFlush": false,
                "titleFont": "Liberation Sans",
                "titleFontSize": 18,
                "titleFontWeight": "normal",
                "titleColor": "#111111",
                "titlePadding": 16
              }
            },
            "color": {
              "field": "dataset",
              "type": "nominal",
              "scale": {
                "domain": ["HadCRUT analysis", "NOAAGlobalTemp", "GISTEMP", "ERA5", "JRA-55"],
                "range": ["#1c1c1c", "#e8a916", "#55c1f2", "#1a6fae", "#df6410"]
              },
              "legend": {
                "orient": "none",
                "legendX": 110,
                "legendY": 45,
                "title": null,
                "padding": 0,
                "symbolType": "stroke",
                "symbolSize": 1850,
                "symbolStrokeWidth": 7,
                "labelFont": "Liberation Sans",
                "labelFontSize": 18,
                "labelColor": "#111111",
                "labelOffset": 7,
                "rowPadding": -3
              }
            }
          }
        },
        {
          "mark": {"type": "point", "opacity": 0},
          "encoding": {
            "x": {
              "field": "year",
              "type": "quantitative",
              "axis": {"orient": "top", "offset": -33, "labels": false, "ticks": false, "title": null, "domainColor": "#cbcbcb", "domainWidth": 2}
            },
            "y": {
              "field": "anomaly",
              "type": "quantitative",
              "axis": {"orient": "right", "offset": -7, "labels": false, "ticks": false, "title": null, "domainColor": "#cbcbcb", "domainWidth": 2}
            }
          }
        }
      ]
    },
    {
      "width": 1247,
      "height": 150,
      "data": {
        "values": [
          {"line": 1, "part": "label", "text": "Slika 1:"},
          {"line": 1, "part": "body", "text": "Odklon povprečne svetovne temperature od povprečja obdobja 1850–1900 za pet neodvisnih podatkovnih"},
          {"line": 2, "part": "body", "text": "nizov v obdobju 1850–2020 (vir: WMO, 2021)"},
          {"line": 3, "part": "label", "text": "Figure 1:"},
          {"line": 3, "part": "body", "text": "Global annual mean temperature difference from pre-industrial conditions (1850-1900) for five global"},
          {"line": 4, "part": "body", "text": "temperature data sets in the period 1850-2020 (Source: WMO, 2021)"}
        ]
      },
      "encoding": {
        "x": {"field": "part", "type": "nominal", "scale": {"type": "point", "domain": ["label", "body"], "range": [116, 130], "padding": 0}, "axis": null},
        "y": {"field": "line", "type": "ordinal", "scale": {"type": "point", "domain": [1, 2, 3, 4], "range": [33, 123], "padding": 0}, "axis": null},
        "text": {"field": "text"}
      },
      "layer": [
        {
          "transform": [{"filter": "datum.part === 'label'"}],
          "mark": {"type": "text", "align": "right", "baseline": "middle", "font": "Open Sans", "fontSize": 22, "color": "#161616"}
        },
        {
          "transform": [{"filter": "datum.part === 'body'"}],
          "mark": {"type": "text", "align": "left", "baseline": "middle", "font": "Open Sans", "fontSize": 22, "color": "#161616"}
        }
      ]
    }
  ]
}
